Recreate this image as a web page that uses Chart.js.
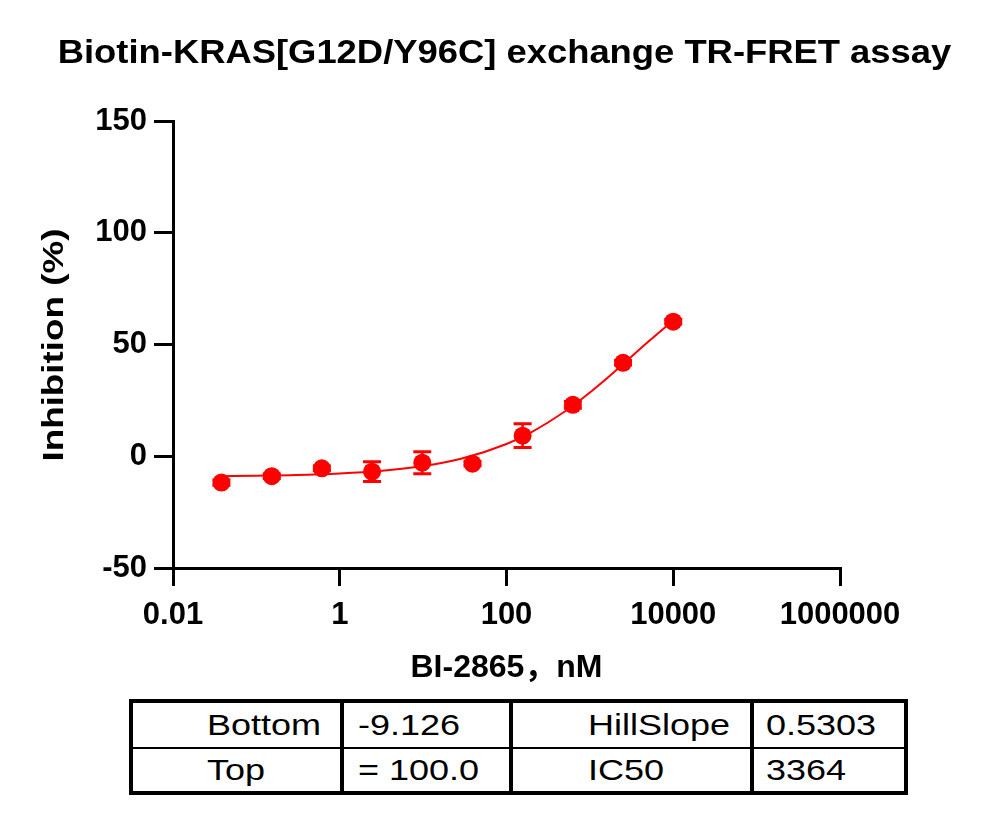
<!DOCTYPE html>
<html>
<head>
<meta charset="utf-8">
<script src="https://cdn.jsdelivr.net/npm/chart.js@4.4.1/dist/chart.umd.min.js"></script>
<style>
  html, body { margin: 0; padding: 0; background: #fff; }
  #wrap { position: relative; width: 990px; height: 818px; }
  #chart { position: absolute; left: 0; top: 0; }
  #params {
    position: absolute; left: 129px; top: 699px;
    border: 4px solid #000; background: #000;
    display: grid;
    grid-template-columns: 207px 165px 237px 150px;
    grid-template-rows: 44px 42px;
    gap: 2px 4px;
    font-family: "Liberation Sans", Arial, sans-serif;
    font-size: 30px; color: #000;
  }
  #params div { background: #fff; display: flex; align-items: center; white-space: nowrap; }
  #params span { display: inline-block; transform: scaleX(1.2); transform-origin: left center; }
  #params .c0 { padding-left: 74px; }
  #params .c1 { padding-left: 14px; }
  #params .c2 { padding-left: 75px; }
  #params .c3 { padding-left: 12px; }
</style>
</head>
<body>
<div id="wrap">
  <canvas id="chart" width="990" height="818"></canvas>
  <div id="params"></div>
</div>
<script>
// measured data, BI-2865 dose series (nM) vs % inhibition
const concentrations = [0.0381, 0.153, 0.610, 2.44, 9.77, 39.1, 156, 625, 2500, 10000];
const inhibition = [-11.8, -8.9, -5.4, -6.9, -2.9, -3.3, 9.2, 23.0, 41.8, 60.2];
const errorSD = [1.2, 1.0, 1.0, 4.4, 4.9, 1.0, 5.3, 1.5, 1.0, 1.0];

// fitted curve
const fitX = [0.0381, 0.1, 0.3, 1, 3, 10, 30, 100, 200, 500, 1000, 2000, 5000, 10000];
const fitY = [-8.9, -8.7, -8.4, -7.7, -6.6, -4.4, -0.9, 5.5, 10.8, 20.0, 28.5, 38.0, 51.2, 60.8];

const xTicks = [0.01, 1, 100, 10000, 1000000];
const xTickLabels = ['0.01', '1', '100', '10000', '1000000'];
const yTicks = [-50, 0, 50, 100, 150];

const paramNames = ['Bottom', 'HillSlope', 'Top', 'IC50'];
const paramValues = ['-9.126', '0.5303', '= 100.0', '3364'];

// --- parameter table ---
const tbl = document.getElementById('params');
for (let r = 0; r < 2; r++) {
    const cells = [paramNames[r * 2], paramValues[r * 2], paramNames[r * 2 + 1], paramValues[r * 2 + 1]];
    cells.forEach((txt, c) => {
        const d = document.createElement('div');
        d.className = 'c' + c;
        const s = document.createElement('span');
        s.textContent = txt;
        d.appendChild(s);
        tbl.appendChild(d);
    });
}

const RED = '#ff0000';
const FONT = '"Liberation Sans", "Noto Sans CJK SC", Arial, sans-serif';

// error bars for the measured points
const errorBars = {
    id: 'errorBars',
    afterDatasetsDraw(chart) {
        const {ctx, scales: {x, y}} = chart;
        ctx.save();
        ctx.strokeStyle = RED;
        concentrations.forEach((c, i) => {
            const px = x.getPixelForValue(c);
            const top = y.getPixelForValue(inhibition[i] + errorSD[i]);
            const bot = y.getPixelForValue(inhibition[i] - errorSD[i]);
            ctx.lineWidth = 2.5;
            ctx.beginPath();
            ctx.moveTo(px, top); ctx.lineTo(px, bot);
            ctx.stroke();
            ctx.lineWidth = 3;
            ctx.beginPath();
            ctx.moveTo(px - 9, top); ctx.lineTo(px + 9, top);
            ctx.moveTo(px - 9, bot); ctx.lineTo(px + 9, bot);
            ctx.stroke();
        });
        ctx.restore();
    }
};

// chart title and y title, drawn by hand since the original text is a bit stretched
const titles = {
    id: 'titles',
    afterDraw(chart) {
        const ctx = chart.ctx;
        ctx.save();
        ctx.fillStyle = '#000';
        ctx.textAlign = 'center';
        ctx.textBaseline = 'alphabetic';
        ctx.font = 'bold 34px ' + FONT;
        ctx.translate(504.5, 63);
        ctx.scale(1.07, 1);
        ctx.fillText('Biotin-KRAS[G12D/Y96C] exchange TR-FRET assay', 0, 0);
        ctx.restore();

        ctx.save();
        ctx.fillStyle = '#000';
        ctx.textAlign = 'center';
        ctx.textBaseline = 'alphabetic';
        ctx.font = 'bold 29px ' + FONT;
        ctx.translate(63, 345);
        ctx.rotate(-Math.PI / 2);
        ctx.scale(1.27, 1);
        ctx.fillText('Inhibition (%)', 0, 0);
        ctx.restore();
    }
};

new Chart(document.getElementById('chart'), {
    type: 'scatter',
    data: {
        datasets: [{
            label: 'fit',
            data: fitX.map((v, i) => ({x: v, y: fitY[i]})),
            showLine: true,
            borderColor: RED,
            borderWidth: 2,
            pointRadius: 0,
            cubicInterpolationMode: 'monotone'
        }, {
            label: 'BI-2865',
            data: concentrations.map((v, i) => ({x: v, y: inhibition[i]})),
            backgroundColor: RED,
            borderWidth: 0,
            pointRadius: 9
        }]
    },
    options: {
        responsive: false,
        animation: false,
        devicePixelRatio: 1,
        layout: { padding: { left: 0, top: 121, right: 150, bottom: 131 } },
        plugins: {
            legend: { display: false },
            tooltip: { enabled: false }
        },
        scales: {
            x: {
                type: 'logarithmic',
                min: 0.01,
                max: 1000000,
                afterBuildTicks: scale => { scale.ticks = xTicks.map(v => ({value: v})); },
                afterFit: scale => { scale.height = 119; },
                ticks: {
                    autoSkip: false, maxRotation: 0, padding: 11,
                    color: '#000',
                    font: { family: FONT, size: 31, weight: 'bold' },
                    callback: v => xTickLabels[xTicks.indexOf(v)]
                },
                border: { display: true, color: '#000', width: 3 },
                grid: { drawOnChartArea: false, drawTicks: true, tickLength: 18, color: '#000', lineWidth: 3 },
                title: {
                    display: true, text: 'BI-2865，nM', color: '#000',
                    font: { family: FONT, size: 32, weight: 'bold' },
                    padding: { top: 0, bottom: 0 }
                }
            },
            y: {
                min: -50,
                max: 150,
                afterBuildTicks: scale => { scale.ticks = yTicks.map(v => ({value: v})); },
                afterFit: scale => { scale.width = 173; },
                ticks: {
                    padding: 7, color: '#000',
                    font: { family: FONT, size: 31, weight: 'bold' }
                },
                border: { display: true, color: '#000', width: 3 },
                grid: { drawOnChartArea: false, drawTicks: true, tickLength: 19, color: '#000', lineWidth: 3 },
                title: { display: false }
            }
        }
    },
    plugins: [errorBars, titles]
});
</script>
</body>
</html>
